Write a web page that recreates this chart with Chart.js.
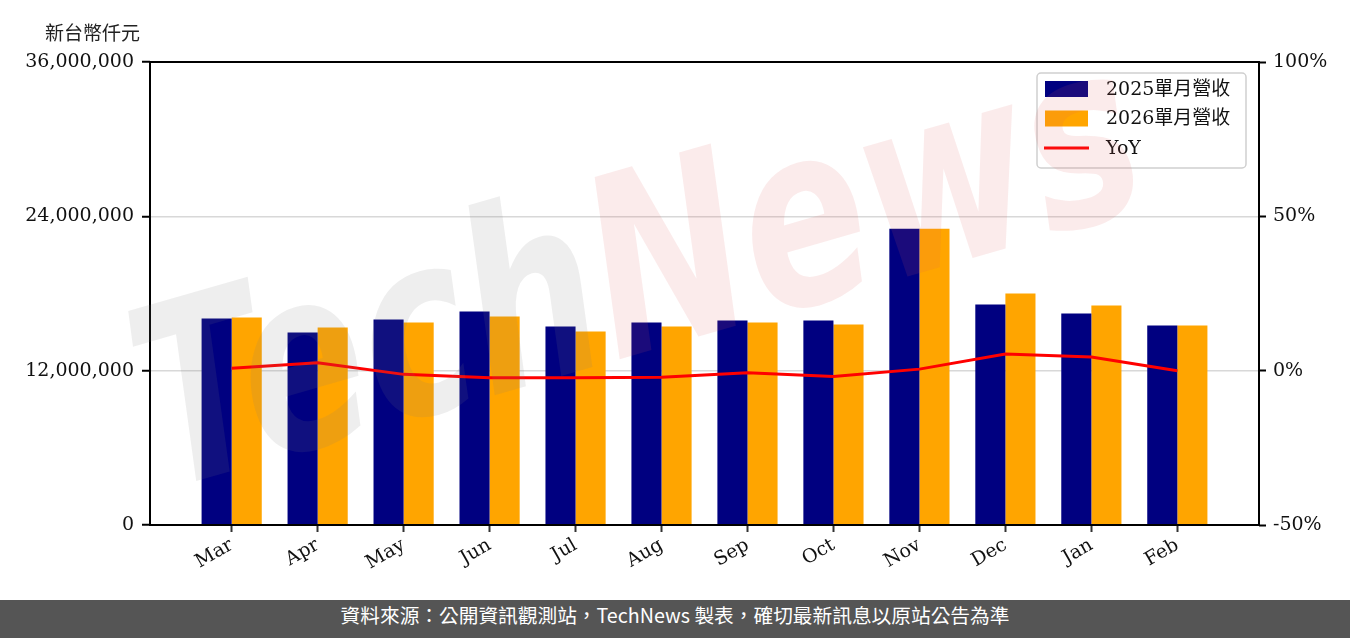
<!DOCTYPE html>
<html>
<head>
<meta charset="utf-8">
<script src="https://cdn.jsdelivr.net/npm/chart.js@4.4.1/dist/chart.umd.min.js"></script>
<style>
  html, body { margin: 0; padding: 0; background: #fff; }
  #wrap { position: relative; width: 1350px; height: 638px; overflow: hidden; }
  #unit { position: absolute; left: 45px; top: 18px; line-height: 20px; font: 19px "Noto Sans CJK TC", sans-serif; color: #222; }
  #footer { position: absolute; left: 0; top: 600px; width: 1350px; height: 38px; background: #555; color: #fff;
            text-align: center; line-height: 38px; font: 19.7px "Noto Sans CJK TC", sans-serif; }
</style>
</head>
<body>
<div id="wrap">
  <canvas id="chart" width="1350" height="600"></canvas>
  <div id="unit">新台幣仟元</div>
  <div id="footer">資料來源：公開資訊觀測站，TechNews 製表，確切最新訊息以原站公告為準</div>
</div>
<script>
// — data —
const months  = ['Mar', 'Apr', 'May', 'Jun', 'Jul', 'Aug', 'Sep', 'Oct', 'Nov', 'Dec', 'Jan', 'Feb'];
const rev2025 = [16060000, 14970000, 15980000, 16600000, 15440000, 15750000, 15900000, 15900000, 23040000, 17150000, 16450000, 15520000];
const rev2026 = [16140000, 15360000, 15750000, 16220000, 15050000, 15440000, 15750000, 15590000, 23040000, 18000000, 17070000, 15520000];
const yoy     = [0.8, 2.6, -1.2, -2.3, -2.3, -2.1, -0.7, -1.9, 0.5, 5.4, 4.4, 0.0];
const leftTicks  = [0, 12000000, 24000000, 36000000];
const rightTicks = [-50, 0, 50, 100];

const FONT = '"DejaVu Serif", "Noto Sans CJK TC", serif';

// frame, legend box and watermark drawn on top
const decor = {
  id: 'decor',
  afterDraw(chart) {
    const { ctx, chartArea: a } = chart;
    ctx.save();
    ctx.strokeStyle = '#000';
    ctx.lineWidth = 2;
    ctx.strokeRect(a.left, a.top, a.right - a.left, a.bottom - a.top);

    // legend
    const lx = 1037, ly = 73, lw = 209, lh = 95;
    ctx.beginPath();
    ctx.roundRect(lx, ly, lw, lh, 4);
    ctx.fillStyle = 'rgba(255,255,255,0.8)';
    ctx.fill();
    ctx.strokeStyle = '#cfcfcf';
    ctx.lineWidth = 1.5;
    ctx.stroke();
    chart.data.datasets.forEach((ds, i) => {
      const cy = ly + 16 + i * 29.5;
      if (ds.type === 'line') {
        ctx.strokeStyle = ds.borderColor;
        ctx.lineWidth = 3;
        ctx.beginPath();
        ctx.moveTo(lx + 7, cy);
        ctx.lineTo(lx + 52, cy);
        ctx.stroke();
      } else {
        ctx.fillStyle = ds.backgroundColor;
        ctx.fillRect(lx + 8, cy - 8, 43, 16);
      }
      ctx.fillStyle = '#111';
      ctx.font = '19px ' + FONT;
      ctx.textBaseline = 'middle';
      ctx.fillText(ds.label, lx + 69, cy + 1);
    });

    // watermark
    ctx.translate(165, 490);
    ctx.rotate(-0.28);
    ctx.scale(1, 1.35);
    ctx.font = 'italic bold 185px "DejaVu Sans"';
    ctx.textBaseline = 'alphabetic';
    ctx.fillStyle = 'rgba(120,120,120,0.13)';
    ctx.fillText('Tech', 0, 0);
    const w = ctx.measureText('Tech').width;
    ctx.fillStyle = 'rgba(220,90,90,0.12)';
    ctx.fillText('News', w, 0);
    ctx.restore();
  }
};

new Chart(document.getElementById('chart'), {
  type: 'bar',
  data: {
    datasets: [{
      type: 'bar',
      label: '2025單月營收',
      data: rev2025.map((v, i) => ({ x: i, y: v })),
      backgroundColor: '#000080',
      yAxisID: 'y',
      order: 1
    }, {
      type: 'bar',
      label: '2026單月營收',
      data: rev2026.map((v, i) => ({ x: i, y: v })),
      backgroundColor: '#FFA500',
      yAxisID: 'y',
      order: 1
    }, {
      type: 'line',
      label: 'YoY',
      data: yoy.map((v, i) => ({ x: i, y: v })),
      borderColor: '#FF0000',
      borderWidth: 3,
      pointRadius: 0,
      pointHoverRadius: 0,
      tension: 0,
      yAxisID: 'y2',
      order: 0
    }]
  },
  options: {
    responsive: false,
    animation: false,
    layout: { padding: { top: 62, left: 0, right: 0, bottom: 0 } },
    categoryPercentage: 0.7,
    barPercentage: 1.0,
    plugins: { legend: { display: false }, tooltip: { enabled: false } },
    scales: {
      x: {
        type: 'linear',
        offset: false,
        min: -0.95,
        max: 11.95,
        afterBuildTicks: s => { s.ticks = months.map((m, i) => ({ value: i })); },
        ticks: { callback: v => months[v], maxRotation: 30, minRotation: 30, autoSkip: false,
                 font: { family: FONT, size: 19 }, color: '#111', padding: 2 },
        grid: { offset: false, drawOnChartArea: false, tickLength: 7, tickColor: '#333', tickWidth: 2 },
        border: { display: false },
        afterFit: s => { s.height = 75; }
      },
      y: {
        position: 'left',
        min: 0,
        max: 36000000,
        afterBuildTicks: s => { s.ticks = leftTicks.map(v => ({ value: v })); },
        ticks: { callback: v => v.toLocaleString('en-US'), font: { family: FONT, size: 19 }, color: '#111', padding: 8 },
        grid: {
          color: c => (c.tick && (c.tick.value === 0 || c.tick.value === 36000000)) ? 'rgba(0,0,0,0)' : '#d8d8d8',
          lineWidth: 1.5, tickColor: '#000', tickLength: 8, tickWidth: 2
        },
        border: { display: false },
        afterFit: s => { s.width = 150; }
      },
      y2: {
        position: 'right',
        min: -50,
        max: 100,
        afterBuildTicks: s => { s.ticks = rightTicks.map(v => ({ value: v })); },
        ticks: { callback: v => v + '%', font: { family: FONT, size: 19 }, color: '#111', padding: 7 },
        grid: { drawOnChartArea: false, tickColor: '#000', tickLength: 7, tickWidth: 2 },
        border: { display: false },
        afterFit: s => { s.width = 91; }
      }
    }
  },
  plugins: [decor]
});
</script>
</body>
</html>
